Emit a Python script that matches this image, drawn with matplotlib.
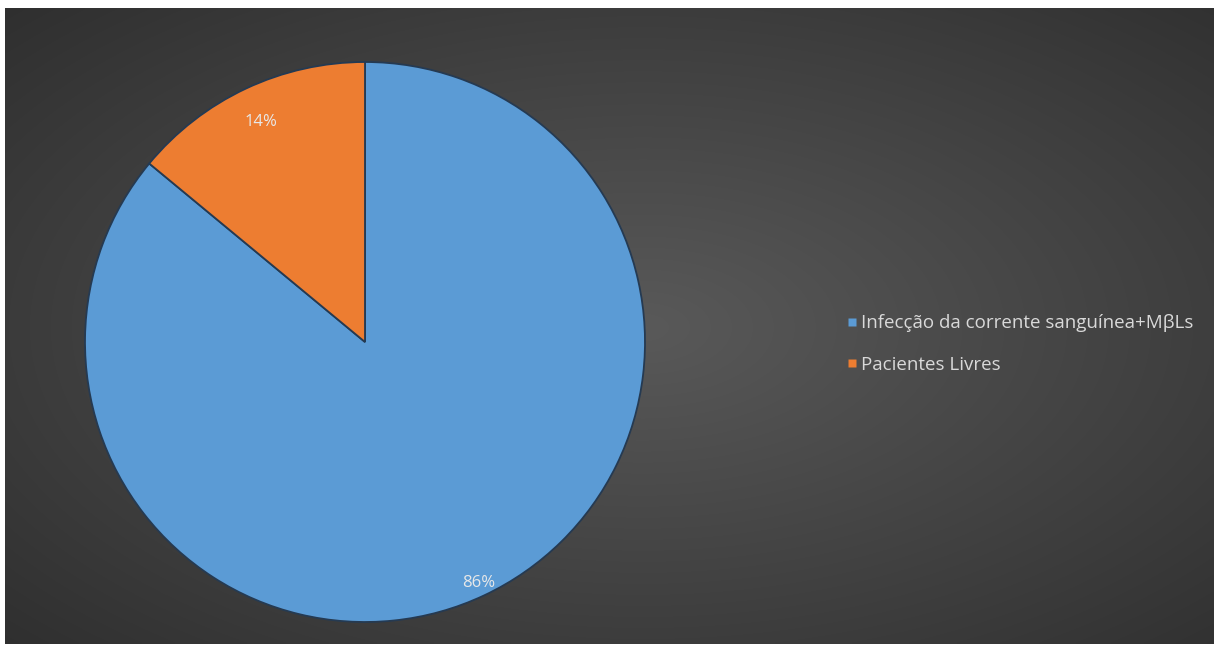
import numpy as np
import matplotlib.pyplot as plt
from matplotlib.lines import Line2D

# data
labels = ['Infecção da corrente sanguínea+MβLs', 'Pacientes Livres']
values = [86, 14]
colors = ['#5B9BD5', '#ED7D31']
pct_text = ['86%', '14%']

plt.rcParams['font.family'] = ['Open Sans', 'DejaVu Sans']

W, H = 1216, 646
fig = plt.figure(figsize=(W / 100, H / 100), dpi=100, facecolor='white')

# dark radial gradient background (chart area)
bg = fig.add_axes([5 / W, 2 / H, (W - 7) / W, (H - 10) / H])
yy, xx = np.mgrid[0:200, 0:380]
d = np.sqrt(((xx - 200) / 190.0) ** 2 + ((yy - 100) / 100.0) ** 2) / np.sqrt(2)
g = 0.35 - 0.16 * d
img = np.dstack([g, g, g])
bg.imshow(img, aspect='auto', extent=[0, 1, 0, 1], interpolation='bilinear')
bg.axis('off')

# pie
R = 280
ax = fig.add_axes([(365 - R) / W, (304 - R) / H, 2 * R / W, 2 * R / H])
wedges, _ = ax.pie(values, colors=colors, startangle=90, counterclock=False,
                   radius=1.0,
                   wedgeprops=dict(edgecolor='#253a52', linewidth=1.3))
ax.set_xlim(-1.0, 1.0)
ax.set_ylim(-1.0, 1.0)
ax.set_aspect('equal')
ax.axis('off')

# percent labels near outer edge
dist = [0.95, 0.87]
for w, t, r in zip(wedges, pct_text, dist):
    ang = np.deg2rad((w.theta1 + w.theta2) / 2)
    ax.text(r * np.cos(ang), r * np.sin(ang), t, ha='center', va='center',
            color='#e8e8e8', fontsize=12)

# legend
handles = [Line2D([], [], marker='s', linestyle='none', markersize=6,
                  markerfacecolor=c, markeredgecolor='none') for c in colors]
fig.legend(handles, labels, loc='center left', bbox_to_anchor=(830 / W, 1 - 344 / H),
           frameon=False, labelcolor='#d9d9d9', fontsize=13.5,
           handlelength=0.5, handletextpad=0.25, labelspacing=1.25)

fig.savefig('out.png', dpi=100, facecolor='white')
